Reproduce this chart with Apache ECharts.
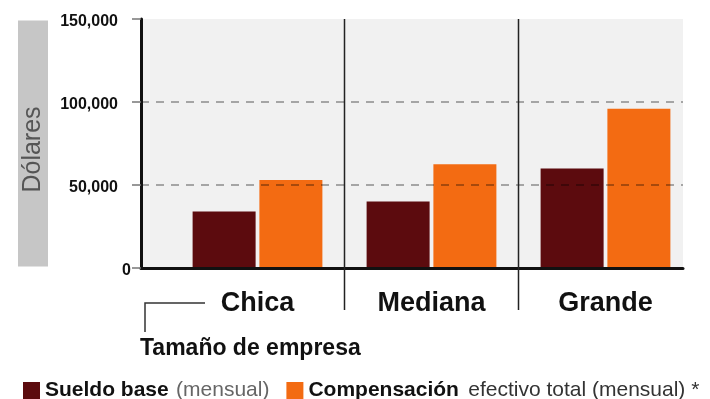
<!DOCTYPE html>
<html><head><meta charset="utf-8">
<script src="https://cdn.jsdelivr.net/npm/echarts@6/dist/echarts.min.js"></script>
<style>html,body{margin:0;padding:0;background:#fff}#c{width:710px;height:399px}</style>
</head><body><div id="c"></div>
<script>
const categories = ['Chica', 'Mediana', 'Grande'];
const sueldoBase = [34000, 40000, 60000];
const compensacion = [53000, 62500, 96000];
const yTicks = [0, 50000, 100000, 150000];
const seriesNames = ['Sueldo base', 'Compensación'];
const legendNotes = ['(mensual)', 'efectivo total (mensual) *'];
const yAxisTitle = 'Dólares';
const xAxisTitle = 'Tamaño de empresa';
const colors = ['#5c0b0e', '#f36b12'];

const FONT = '"Liberation Sans", Arial, Helvetica, sans-serif';
const chart = echarts.init(document.getElementById('c'), null, {renderer: 'canvas'});
const yMin = yTicks[0], yMax = yTicks[yTicks.length - 1], yStep = yTicks[1] - yTicks[0];

const option = {
  animation: false,
  backgroundColor: '#ffffff',
  textStyle: {fontFamily: FONT},
  grid: [
    {left: 141, right: 27, top: 19, bottom: 131, show: true, backgroundColor: '#f1f1f1', borderWidth: 0, outerBoundsMode: 'none', containLabel: false},
    {left: 170.5, right: 17.5, top: 19, bottom: 131, outerBoundsMode: 'none', containLabel: false}
  ],
  xAxis: [
    {gridIndex: 0, type: 'value', min: 0, max: 1, z: 5,
     axisLine: {show: true, onZero: false, lineStyle: {color: '#111', width: 3}},
     axisTick: {show: false}, axisLabel: {show: false}, splitLine: {show: false}},
    {gridIndex: 1, type: 'category', data: categories,
     axisLine: {show: false}, axisTick: {show: false}, splitLine: {show: false},
     axisLabel: {fontSize: 27, fontWeight: 'bold', color: '#111', margin: 22, fontFamily: FONT}}
  ],
  yAxis: [
    {gridIndex: 0, type: 'value', min: yMin, max: yMax, interval: yStep, z: 5,
     axisLine: {show: true, lineStyle: {color: '#111', width: 3}},
     axisTick: {show: true, length: 9, lineStyle: {color: '#777', width: 1.5}},
     axisLabel: {
       margin: 10,
       formatter: v => v === 0 ? '{z|0}' : '{n|' + v.toLocaleString('en-US') + '}',
       rich: {
         z: {fontSize: 16, fontWeight: 'bold', color: '#111', fontFamily: FONT, padding: [6, 0, 0, 0]},
         n: {fontSize: 16, fontWeight: 'bold', color: '#111', fontFamily: FONT, padding: [6, 13, 0, 0]}
       }
     },
     splitLine: {show: true, showMinLine: false, showMaxLine: false,
       lineStyle: {type: [8, 7], color: 'rgba(0,0,0,0.42)', width: 1.5}},
     name: yAxisTitle, nameLocation: 'middle', nameRotate: 90, nameGap: 93,
     nameTextStyle: {fontSize: 25, color: '#555', backgroundColor: '#c6c6c6', padding: [3, 86, 2, 74], fontFamily: FONT}
    },
    {gridIndex: 1, type: 'value', min: yMin, max: yMax, interval: yStep, show: false}
  ],
  legend: {
    left: 18, top: 375, itemWidth: 17, itemHeight: 17, itemGap: 17, icon: 'rect',
    data: seriesNames,
    formatter: name => {
      const i = seriesNames.indexOf(name);
      return '{b|' + name + '} {' + (i === 0 ? 'm' : 'e') + '|' + legendNotes[i] + '}';
    },
    textStyle: {
      rich: {
        b: {fontSize: 21, fontWeight: 'bold', color: '#111', fontFamily: FONT},
        m: {fontSize: 21, color: '#666', fontFamily: FONT, padding: [0, 0, 0, 4]},
        e: {fontSize: 21, color: '#333', fontFamily: FONT, padding: [0, 0, 0, 6]}
      }
    }
  },
  series: [
    {name: seriesNames[0], type: 'bar', xAxisIndex: 1, yAxisIndex: 1, data: sueldoBase,
     barWidth: 63, barGap: '6%', itemStyle: {color: colors[0]}},
    {name: seriesNames[1], type: 'bar', xAxisIndex: 1, yAxisIndex: 1, data: compensacion,
     barWidth: 63, barGap: '6%', itemStyle: {color: colors[1]}}
  ]
};
chart.setOption(option);

// Decorations derived from the library's scales
const cx = categories.map(c => chart.convertToPixel({xAxisIndex: 1}, c));
const yTop = chart.convertToPixel({yAxisIndex: 1}, yMax);
const yBase = chart.convertToPixel({yAxisIndex: 1}, yMin);
const elements = [];
for (let i = 1; i < cx.length; i++) {
  const bx = (cx[i - 1] + cx[i]) / 2;
  elements.push({type: 'line', z: 10, shape: {x1: bx, y1: yTop, x2: bx, y2: yBase + 42},
    style: {stroke: '#222', lineWidth: 1.5}});
}
elements.push({type: 'polyline', z: 10, shape: {points: [[205, yBase + 35], [145, yBase + 35], [145, yBase + 64]]},
  style: {stroke: '#333', lineWidth: 1.5, fill: null}});
elements.push({type: 'text', z: 10, left: 140, top: yBase + 69,
  style: {text: xAxisTitle, font: 'bold 23px ' + FONT, fill: '#111'}});
chart.setOption({graphic: {elements}});
</script>
</body></html>
